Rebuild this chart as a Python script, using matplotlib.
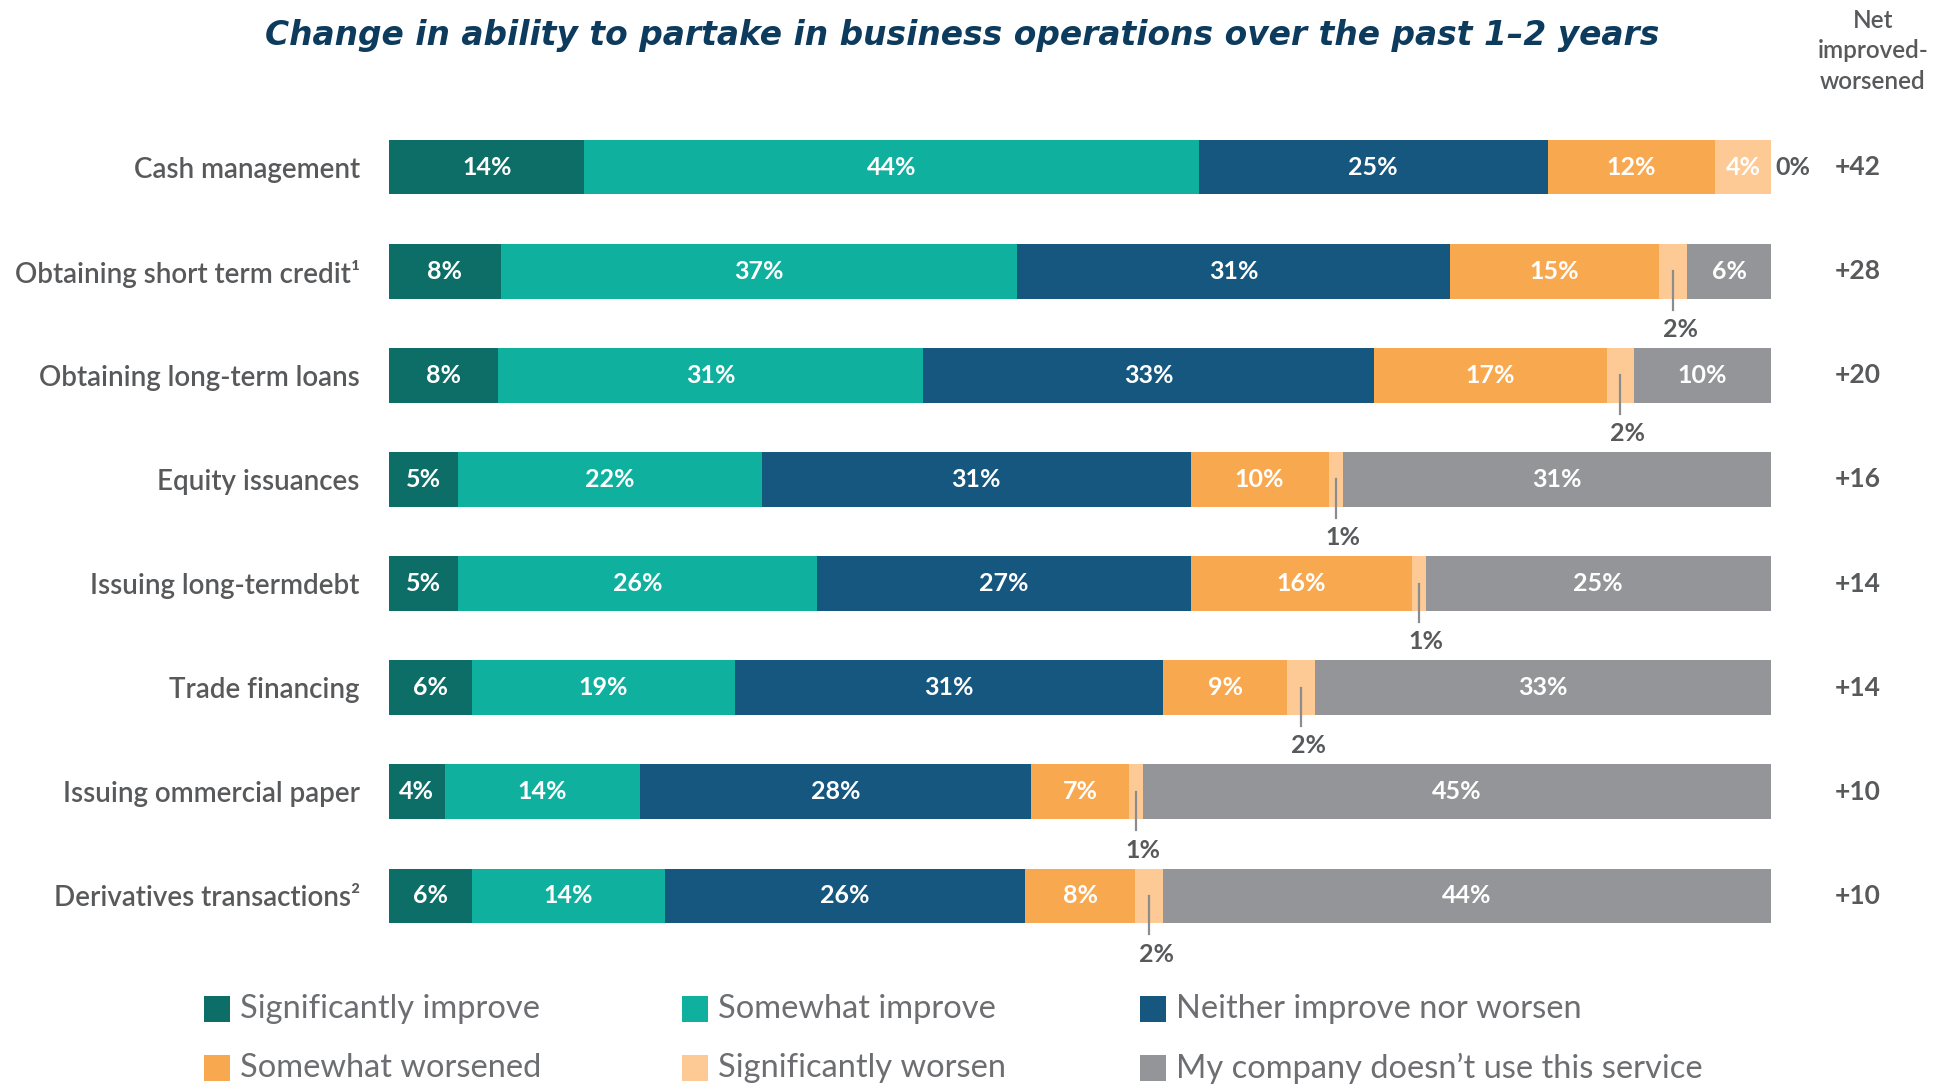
import matplotlib.pyplot as plt
from matplotlib.patches import Rectangle
import numpy as np

plt.rcParams['font.family'] = ['Lato', 'DejaVu Sans']

# данные
categories = ['Cash management', 'Obtaining short term credit\u00b9', 'Obtaining long-term loans',
              'Equity issuances', 'Issuing long-termdebt', 'Trade financing',
              'Issuing ommercial paper', 'Derivatives transactions\u00b2']
series = ['Significantly improve', 'Somewhat improve', 'Neither improve nor worsen',
          'Somewhat worsened', 'Significantly worsen', 'My company doesn\u2019t use this service']
sig_improve = [14, 8, 8, 5, 5, 6, 4, 6]
some_improve = [44, 37, 31, 22, 26, 19, 14, 14]
neither = [25, 31, 33, 31, 27, 31, 28, 26]
some_worse = [12, 15, 17, 10, 16, 9, 7, 8]
sig_worse = [4, 2, 2, 1, 1, 2, 1, 2]
not_used = [0, 6, 10, 31, 25, 33, 45, 44]
net = ['+42', '+28', '+20', '+16', '+14', '+14', '+10', '+10']

colors = ['#0c6e66', '#10b09f', '#15577f', '#f8a94f', '#fdca96', '#939598']
text_gray = '#58595b'

values = np.array([sig_improve, some_improve, neither, some_worse, sig_worse, not_used], dtype=float)
totals = values.sum(axis=0)
widths = values / totals * 100  # каждая строка заполняет всю ширину

fig = plt.figure(figsize=(19.38, 10.84), dpi=100)
ax = fig.add_axes([389 / 1938, 1 - 948 / 1084, 1382 / 1938, 833 / 1084])
y = np.arange(len(categories))
bar_h = 0.525

left = np.zeros(len(categories))
for s in range(len(series)):
    ax.barh(y, widths[s], left=left, height=bar_h, color=colors[s], linewidth=0)
    for i in range(len(categories)):
        v = values[s, i]
        cx = left[i] + widths[s, i] / 2
        if v == 0:
            # ноль справа от полосы
            ax.text(left[i] + 0.3, y[i], '0%', ha='left', va='center', fontsize=18,
                    color=text_gray, fontweight='bold', clip_on=False)
        elif s == 4 and v <= 2:
            # маленькое значение под полосой с выноской
            ax.plot([cx, cx], [y[i], y[i] + 0.37], color='#8a8c8e', linewidth=1.6, clip_on=False)
            ax.text(cx + 0.5, y[i] + 0.56, f'{int(v)}%', ha='center', va='center', fontsize=18,
                    color=text_gray, fontweight='bold', clip_on=False)
        else:
            ax.text(cx, y[i], f'{int(v)}%', ha='center', va='center', fontsize=18,
                    color='white', fontweight='bold')
    left += widths[s]

for i in range(len(categories)):
    ax.text(106.3, y[i], net[i], ha='center', va='center', fontsize=19,
            color=text_gray, fontweight='bold', clip_on=False)

ax.set_xlim(0, 100)
ax.set_ylim(len(categories) - 0.5, -0.5)
ax.set_yticks(y)
ax.set_yticklabels(categories, fontsize=20, color=text_gray, fontweight='semibold')
ax.tick_params(axis='y', length=0, pad=21)
ax.set_xticks([])
for sp in ax.spines.values():
    sp.set_visible(False)

fig.text(962 / 1938, 1 - 35 / 1084,
         'Change in ability to partake in business operations over the past 1\u20132 years',
         ha='center', va='center', fontsize=23.7, fontweight='bold', fontstyle='italic',
         color='#0d3b5e', family='DejaVu Sans')
fig.text(1873 / 1938, 1 - 51 / 1084, 'Net\nimproved-\nworsened', ha='center', va='center',
         fontsize=17.5, color=text_gray, fontweight='semibold', linespacing=1.4)

# легенда
leg_x = [204, 682, 1140]
leg_y = [1009, 1068]
for k, name in enumerate(series):
    px = leg_x[k % 3]
    py = leg_y[k // 3]
    fig.patches.append(Rectangle((px / 1938, 1 - (py + 13) / 1084), 26 / 1938, 26 / 1084,
                                 transform=fig.transFigure, color=colors[k], linewidth=0))
    fig.text((px + 36) / 1938, 1 - py / 1084, name, ha='left', va='center', fontsize=23.5,
             color='#6d6e71', fontweight='normal')

fig.savefig('out.png', dpi=100)
